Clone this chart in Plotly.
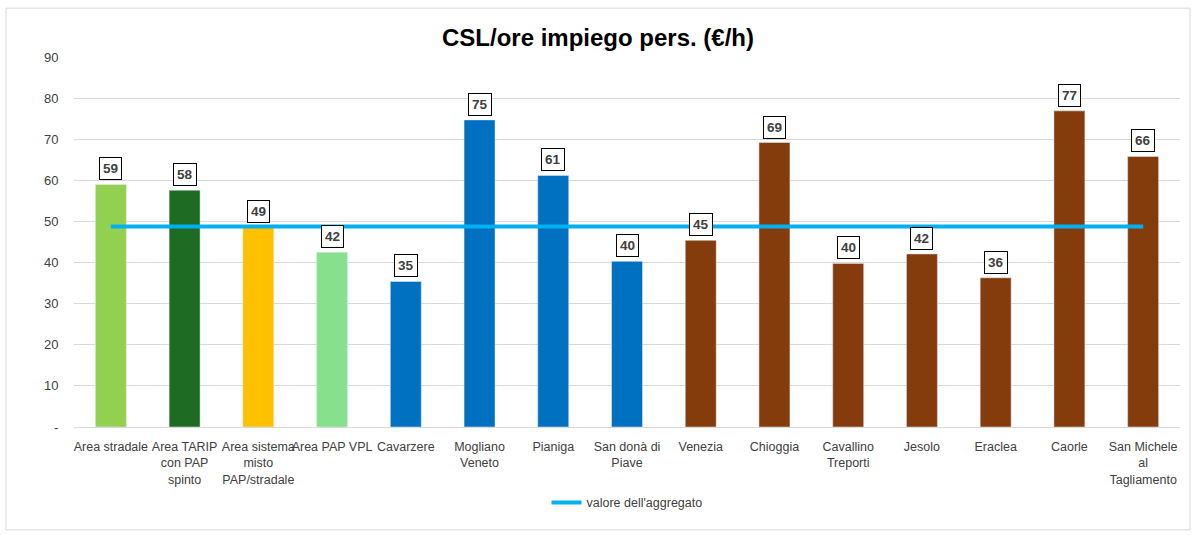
import plotly.graph_objects as go

categorie = ["Area stradale", "Area TARIP<br>con PAP<br>spinto", "Area sistema<br>misto<br>PAP/stradale",
             "Area PAP VPL", "Cavarzere", "Mogliano<br>Veneto", "Pianiga", "San donà di<br>Piave",
             "Venezia", "Chioggia", "Cavallino<br>Treporti", "Jesolo", "Eraclea", "Caorle",
             "San Michele<br>al<br>Tagliamento"]
valori = [59.0, 57.6, 48.6, 42.5, 35.4, 74.7, 61.2, 40.3, 45.4, 69.2, 39.8, 42.1, 36.3, 76.9, 65.8]
colori = ["#92D050", "#1E6B24", "#FFC000", "#86E08C", "#0070C0", "#0070C0", "#0070C0", "#0070C0",
          "#843C0C", "#843C0C", "#843C0C", "#843C0C", "#843C0C", "#843C0C", "#843C0C"]
aggregato = 48.8

font = "Liberation Sans, Arial, sans-serif"

fig = go.Figure()
fig.add_trace(go.Bar(x=categorie, y=valori, marker_color=colori, width=0.42,
                     showlegend=False, hoverinfo="x+y"))
fig.add_trace(go.Scatter(x=[categorie[0], categorie[-1]], y=[aggregato, aggregato], mode="lines",
                         line=dict(color="#00B0F0", width=4), name="valore dell'aggregato"))

for c, v in zip(categorie, valori):
    fig.add_annotation(x=c, y=v, text="<b>%d</b>" % round(v), showarrow=False, yanchor="bottom",
                       yshift=4, bgcolor="white", bordercolor="black", borderwidth=1, borderpad=3,
                       font=dict(family=font, size=13.5, color="#404040"))

# bordo esterno del grafico
fig.add_shape(type="rect", xref="paper", yref="paper", x0=-0.0615, x1=1.009, y0=-0.278, y1=1.132,
              line=dict(color="#D9D9D9", width=1), fillcolor="rgba(0,0,0,0)")

fig.update_layout(
    width=1196, height=535,
    margin=dict(l=74, r=16, t=57, b=108, autoexpand=False),
    paper_bgcolor="white", plot_bgcolor="white",
    title=dict(text="<b>CSL/ore impiego pers. (€/h)</b>", x=0.5, xanchor="center",
               yref="container", y=0.93, yanchor="middle", automargin=False,
               font=dict(family=font, size=24, color="black")),
    font=dict(family=font, size=13, color="#404040"),
    legend=dict(orientation="h", x=0.5, xanchor="center", y=-0.205, yanchor="middle",
                font=dict(family=font, size=12.5, color="#404040")),
    xaxis=dict(showgrid=False, showline=True, linecolor="#D9D9D9", linewidth=1, tickangle=0,
               tickfont=dict(size=12.5, color="#404040"), ticks="outside", ticklen=8,
               tickcolor="rgba(0,0,0,0)", automargin=False),
    yaxis=dict(range=[0, 90], tickvals=[0, 10, 20, 30, 40, 50, 60, 70, 80, 90],
               ticktext=["-", "10", "20", "30", "40", "50", "60", "70", "80", "90"],
               showgrid=True, gridcolor="#D9D9D9", gridwidth=1, zeroline=False,
               tickfont=dict(size=13, color="#404040"), ticks="outside", ticklen=12,
               tickcolor="rgba(0,0,0,0)", automargin=False),
)

fig.write_html("out.html", config={"displayModeBar": False},
               post_script="document.body.style.margin='0';")
